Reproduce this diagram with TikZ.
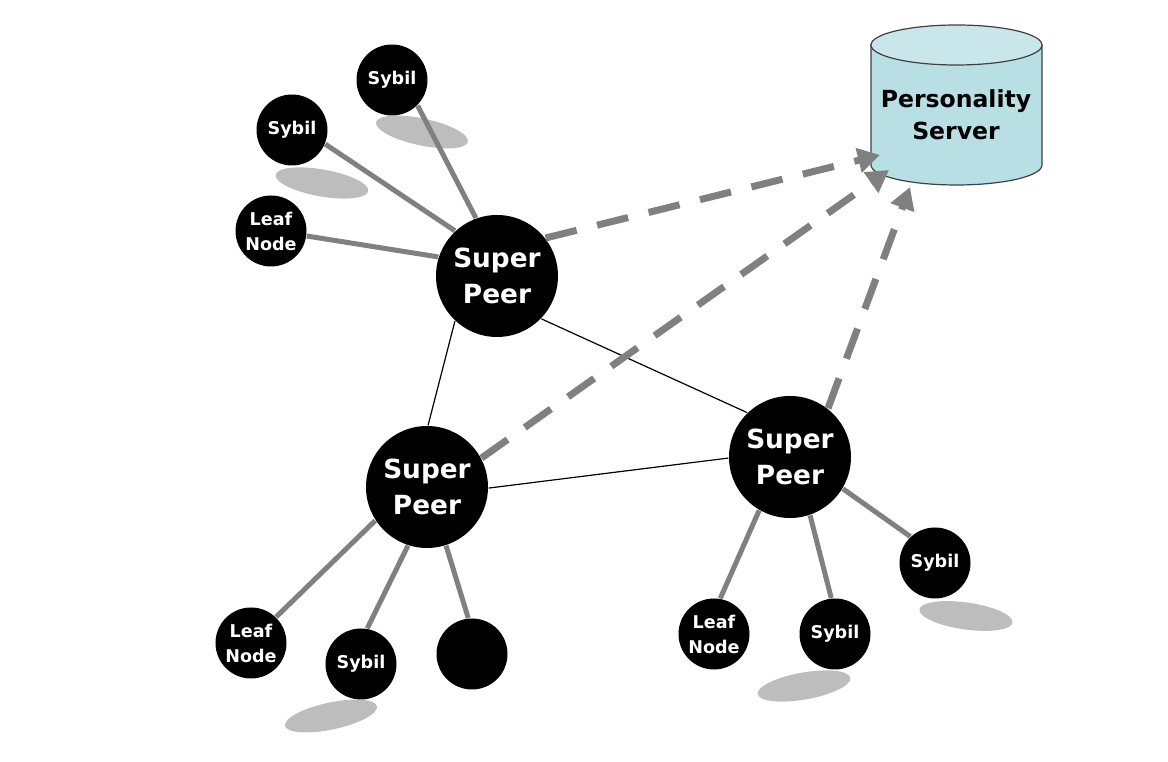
\documentclass[tikz,border=0pt]{standalone}
\usepackage{fontspec}
\setmainfont{DejaVu Sans}
\usetikzlibrary{arrows.meta,shapes.geometric}
\definecolor{serverBody}{HTML}{B8DFE4}
\definecolor{serverTop}{HTML}{C9E7EA}

\begin{document}
\begin{tikzpicture}
[superPeer/.style={circle,minimum size=1.22cm,inner sep=0pt,fill=black,text=white,align=center,font=\bfseries\fontsize{7.5}{10.2}\selectfont},
smallNode/.style={circle,minimum size=0.71cm,inner sep=0pt,fill=black,text=white,align=center,font=\bfseries\fontsize{5}{7.1}\selectfont},
sybilShadow/.style={ellipse,minimum width=0.94cm,minimum height=0.27cm,inner sep=0pt,fill=black!26},
serverLine/.style={draw=black!75,line width=0.012cm},
serverLabel/.style={align=center,font=\bfseries\fontsize{6.7}{9.1}\selectfont},
edge/.style={line width=0.05cm,draw=black!50},
peerEdge/.style={line width=0.012cm,draw=black},
report/.style={line width=0.07cm,draw=black!50,dash pattern=on 0.32cm off 0.21cm,-{Triangle[length=0.22cm,width=0.24cm]}},
]
\useasboundingbox (0,0) rectangle (11.68,7.62);
\node[sybilShadow,rotate=-12] (shadow1) at (4.22 , 6.30) {};
\node[sybilShadow,rotate=-10] (shadow2) at (3.22 , 5.79) {};
\node[sybilShadow,rotate=12] (shadow3) at (3.31 , 0.46) {};
\node[sybilShadow,rotate=10] (shadow4) at (8.04 , 0.76) {};
\node[sybilShadow,rotate=-8] (shadow5) at (9.66 , 1.46) {};
\draw[serverLine,fill=serverBody] (8.71 , 7.17) -- (8.71 , 5.97) arc[start angle=180,end angle=360,x radius=0.855,y radius=0.2] -- (10.42 , 7.17) -- cycle ;
\draw[serverLine,fill=serverTop] (9.565 , 7.17) ellipse [x radius=0.855,y radius=0.2] ;
\node[serverLabel] (serverText) at (9.56 , 6.47) {Personality\\Server};
\node[superPeer] (peer1) at (4.97 , 4.86) {Super\\Peer};
\node[superPeer] (peer2) at (4.27 , 2.75) {Super\\Peer};
\node[superPeer] (peer3) at (7.90 , 3.05) {Super\\Peer};
\node[smallNode] (sybil1) at (3.92 , 6.82) {Sybil};
\node[smallNode] (sybil2) at (2.92 , 6.32) {Sybil};
\node[smallNode] (leaf1) at (2.71 , 5.31) {Leaf\\Node};
\node[smallNode] (leaf2) at (2.51 , 1.19) {Leaf\\Node};
\node[smallNode] (sybil3) at (3.61 , 0.98) {Sybil};
\node[smallNode] (blank) at (4.72 , 1.08) {};
\node[smallNode] (leaf3) at (7.14 , 1.28) {Leaf\\Node};
\node[smallNode] (sybil4) at (8.35 , 1.28) {Sybil};
\node[smallNode] (sybil5) at (9.35 , 1.99) {Sybil};
\coordinate (tip1) at (8.80 , 6.07);
\coordinate (tip2) at (8.89 , 5.92);
\coordinate (tip3) at (9.10 , 5.75);
\draw[peerEdge](peer1.227) -- (peer2.89) ;
\draw[peerEdge](peer1.316) -- (peer3.134) ;
\draw[peerEdge](peer2.359) -- (peer3.181) ;
\draw[edge](sybil1.-45) -- (peer1.110) ;
\draw[edge](sybil2.-23) -- (peer1.133) ;
\draw[edge](leaf1.-8) -- (peer1.162) ;
\draw[edge](leaf2.46) -- (peer2.213) ;
\draw[edge](sybil3.80) -- (peer2.252) ;
\draw[edge](blank.96) -- (peer2.288) ;
\draw[edge](leaf3.80) -- (peer3.240) ;
\draw[edge](sybil4.96) -- (peer3.289) ;
\draw[edge](sybil5.133) -- (peer3.329) ;
\draw[report](peer1.38) -- (tip1) ;
\draw[report](peer2.28) -- (tip2) ;
\draw[report](peer3.52) -- (tip3) ;
\end{tikzpicture}
\end{document}
